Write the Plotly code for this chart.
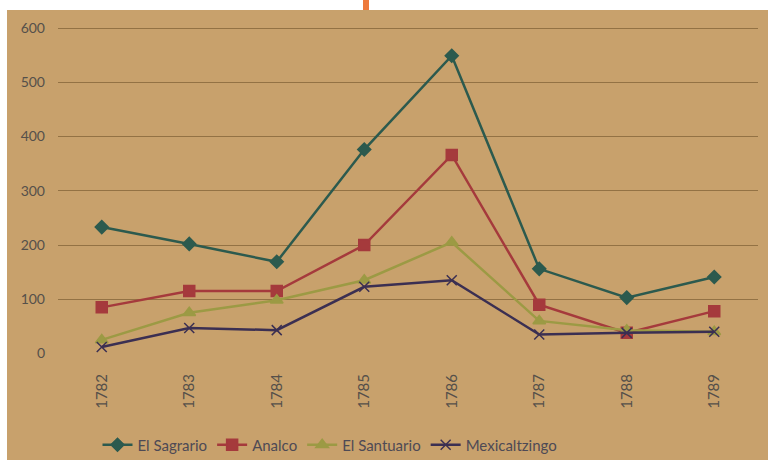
import plotly.graph_objects as go

years = ["1782", "1783", "1784", "1785", "1786", "1787", "1788", "1789"]
el_sagrario = [233, 202, 169, 376, 549, 156, 103, 141]
analco = [85, 115, 115, 200, 366, 90, 38, 78]
el_santuario = [25, 75, 98, 135, 205, 60, 43, 40]
mexicaltzingo = [12, 47, 43, 123, 135, 35, 38, 40]
y_ticks = [0, 100, 200, 300, 400, 500, 600]

series = [
    ("El Sagrario", el_sagrario, "#2c5a4e", "diamond", 10),
    ("Analco", analco, "#a53a3c", "square", 11),
    ("El Santuario", el_santuario, "#9c9a44", "triangle-up", 11),
    ("Mexicaltzingo", mexicaltzingo, "#3b2f52", "x-thin", 10),
]

fig = go.Figure()
for name, vals, col, sym, sz in series:
    fig.add_trace(go.Scatter(
        x=years, y=vals, name=name, mode="lines+markers",
        line=dict(color=col, width=2.5),
        marker=dict(symbol=sym, size=sz, color=col, line=dict(color=col, width=1.5)),
    ))

L, R, T, B = 58, 10, 27, 106
W, H = 768, 460
pw, ph = W - L - R, H - T - B

def px_x(px):
    return (px - L) / pw

def px_y(py):
    return (H - B - py) / ph

fig.update_layout(
    width=W, height=H,
    margin=dict(l=L, r=R, t=T, b=B, autoexpand=False),
    paper_bgcolor="#c8a16c",
    plot_bgcolor="rgba(0,0,0,0)",
    font=dict(family="Lato, Open Sans, sans-serif", color="#55504a", size=14),
    showlegend=True,
    legend=dict(orientation="h", xref="container", yref="container",
                x=330 / W, xanchor="center", y=1 - 445 / H, yanchor="middle",
                font=dict(size=15, color="#4e4a55"), bgcolor="rgba(0,0,0,0)",
                itemwidth=30),
    xaxis=dict(type="category", range=[-0.5, 7.5], showgrid=False, zeroline=False,
               showline=False, ticks="", tickangle=-90, ticklabelstandoff=16,
               automargin=False, tickfont=dict(size=15, color="#55504a")),
    yaxis=dict(range=[-1, 602], tickvals=y_ticks, showgrid=True, gridcolor="#937244",
               gridwidth=1, zeroline=False, showline=False, ticks="", ticklabelstandoff=12,
               automargin=False, tickfont=dict(size=14, color="#55504a")),
    shapes=[
        dict(type="rect", xref="paper", yref="paper", x0=px_x(-5), x1=px_x(W + 5),
             y0=px_y(10), y1=px_y(-5), fillcolor="white", line=dict(width=0), layer="above"),
        dict(type="rect", xref="paper", yref="paper", x0=px_x(-5), x1=px_x(7),
             y0=px_y(H + 5), y1=px_y(-5), fillcolor="white", line=dict(width=0), layer="above"),
        dict(type="rect", xref="paper", yref="paper", x0=px_x(363), x1=px_x(369),
             y0=px_y(10), y1=px_y(0), fillcolor="#ee7a3c", line=dict(width=0), layer="above"),
    ],
)

fig.write_html("out.html")
